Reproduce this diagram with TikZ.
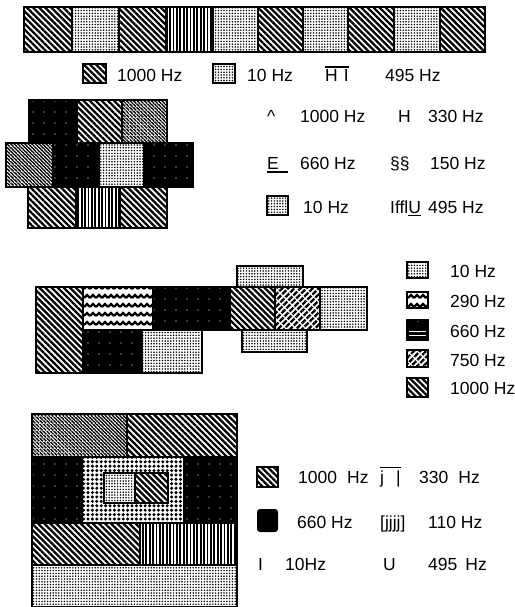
\documentclass[tikz,border=0pt]{standalone}
\usepackage{fontspec}
\setmainfont{Liberation Sans}
\usetikzlibrary{patterns,patterns.meta}
\newcommand\ovl[1]{\vbox{\hrule height 1.4pt\kern2.2pt\hbox{#1}}}
\newcommand\unl[2][1.6pt]{\vtop{\hbox{#2}\kern2pt\hrule height #1}}
\newcommand\cell[3]{\path[#1] (#2) rectangle (#3); \draw[cellline] (#2) rectangle (#3);}
\pgfdeclarepatternformonly{zigzag}{\pgfqpoint{-1pt}{-1pt}}{\pgfqpoint{7pt}{10pt}}{\pgfqpoint{6pt}{9pt}}{%
  \pgfsetlinewidth{2.3pt}%
  \pgfpathmoveto{\pgfqpoint{0pt}{3pt}}\pgfpathlineto{\pgfqpoint{3pt}{6pt}}\pgfpathlineto{\pgfqpoint{6pt}{3pt}}\pgfusepathqstroke}
\tikzset{
  cellline/.style={line width=1.8pt, line join=miter},
  diag/.style={pattern={Lines[angle=-45,distance=4.3pt,line width=2.3pt]}},
  dotp/.style={pattern={Dots[distance=2.8pt,radius=0.85pt]}},
  vert/.style={pattern={Lines[angle=90,distance=3.4pt,line width=1.8pt]}},
  blk/.style={fill=black, postaction={pattern={Dots[distance=11pt,radius=0.6pt]}, pattern color=white}},
  fine/.style={pattern={Lines[angle=-45,distance=2.5pt,line width=1.4pt]}, postaction={pattern={Dots[distance=3.6pt,radius=0.7pt]}, pattern color=white}},
  wavy/.style={pattern=zigzag},
  slant/.style={pattern={Lines[angle=45,distance=4.3pt,line width=2.3pt]}, postaction={pattern={Lines[angle=-45,distance=7pt,line width=1.2pt]}, pattern color=white}},
  polka/.style={pattern={Dots[distance=4.4pt,radius=1.7pt]}},
  txt/.style={anchor=base west, inner sep=0pt}
}
\begin{document}
\begin{tikzpicture}[x=1pt, y=-1pt, font=\fontsize{17.5}{20}\selectfont]
\useasboundingbox (0,0) rectangle (514,607);
% ---------- section 1: strip ----------
\cell{diag}{24,7}{72,52}
\cell{dotp}{72,7}{119,52}
\cell{diag}{119,7}{166,52}
\cell{vert}{166,7}{213,52}
\cell{dotp}{213,7}{258,52}
\cell{diag}{258,7}{303,52}
\cell{dotp}{303,7}{348,52}
\cell{diag}{348,7}{394,52}
\cell{dotp}{394,7}{440,52}
\cell{diag}{440,7}{485,52}
\cell{diag}{83,64}{106,83}
\node[txt] (a1) at (117,82) {1000 Hz};
\cell{dotp}{213,64}{235,83}
\node[txt] (a2) at (247,82) {10 Hz};
\node[txt] (a3) at (325,82) {\ovl{H\hspace{6pt}I}};
\node[txt] (a4) at (385,82) {495 Hz};
% ---------- section 2: cross ----------
\cell{blk}{29,100}{77,143}
\cell{diag}{77,100}{122,143}
\cell{fine}{122,100}{167,143}
\cell{fine}{6,143}{53,187}
\cell{blk}{53,143}{99,187}
\cell{dotp}{99,143}{144,187}
\cell{blk}{144,143}{193,187}
\cell{diag}{28,187}{76,228}
\cell{vert}{76,187}{120,228}
\cell{diag}{120,187}{167,228}
\node[txt] (b1) at (267,123) {\textasciicircum};
\node[txt] (b2) at (300,123) {1000 Hz};
\node[txt] (b3) at (398,123) {H};
\node[txt] (b4) at (428,123) {330 Hz};
\node[txt] (b5) at (267,169) {\unl[2pt]{E\hspace{9pt}}};
\node[txt] (b6) at (300,169) {660 Hz};
\node[txt] (b7) at (390,169) {\S\S};
\node[txt] (b8) at (430,169) {150 Hz};
\cell{dotp}{267,196}{288,215}
\node[txt] (b9) at (303,213) {10 Hz};
\node[txt] (b10) at (390,213) {Iffl\unl[1pt]{U}};
\node[txt] (b11) at (428,213) {495 Hz};
% ---------- section 3 ----------
\cell{diag}{36,287}{83,373}
\cell{wavy}{83,287}{153,330}
\cell{blk}{153,287}{230,330}
\cell{blk}{83,330}{142,373}
\cell{dotp}{142,330}{202,373}
\cell{diag}{230,287}{275,330}
\cell{slant}{275,287}{320,330}
\cell{dotp}{320,287}{367,330}
\cell{dotp}{237,266}{303,287}
\cell{dotp}{242,330}{307,352}
\cell{dotp}{407,262}{428,278}
\cell{wavy}{407,292}{428,308}
\cell{blk}{407,320}{428,340}
\draw[white, line width=0.8pt] (409,331) -- (426,331) (409,335) -- (426,335);
\cell{slant}{407,350}{428,367}
\cell{diag}{407,378}{428,397}
\node[txt] (c1) at (450,277) {10 Hz};
\node[txt] (c2) at (450,307) {290 Hz};
\node[txt] (c3) at (450,337) {660 Hz};
\node[txt] (c4) at (450,366) {750 Hz};
\node[txt] (c5) at (450,394) {1000 Hz};
% ---------- section 4 ----------
\cell{fine}{32,414}{127,457}
\cell{diag}{127,414}{237,457}
\cell{blk}{32,457}{82,523}
\cell{polka}{82,457}{184,523}
\cell{blk}{184,457}{237,523}
\path[fill=white] (104,473) rectangle (168,503);
\cell{dotp}{104,473}{135,503}
\cell{diag}{135,473}{168,503}
\cell{diag}{32,523}{140,565}
\cell{vert}{140,523}{237,565}
\cell{dotp}{32,565}{237,607}
\cell{diag}{257,467}{278,487}
\node[txt] (d1) at (298,483) {1000\hspace{10pt}Hz};
\node[txt] (d2) at (380,483) {\ovl{j\hspace{12pt}|}};
\node[txt] (d3) at (419,483) {330\hspace{10pt}Hz};
\fill[rounded corners=3pt] (257,509) rectangle (278,532);
\node[txt] (d4) at (297,528) {660 Hz};
\node[txt] (d5) at (380,528) {[jjjj]};
\node[txt] (d6) at (428,528) {110 Hz};
\node[txt] (d7) at (258,570) {I};
\node[txt] (d8) at (285,570) {10Hz};
\node[txt] (d9) at (383,570) {U};
\node[txt] (d10) at (428,570) {495\hspace{8pt}Hz};
\end{tikzpicture}
\end{document}
